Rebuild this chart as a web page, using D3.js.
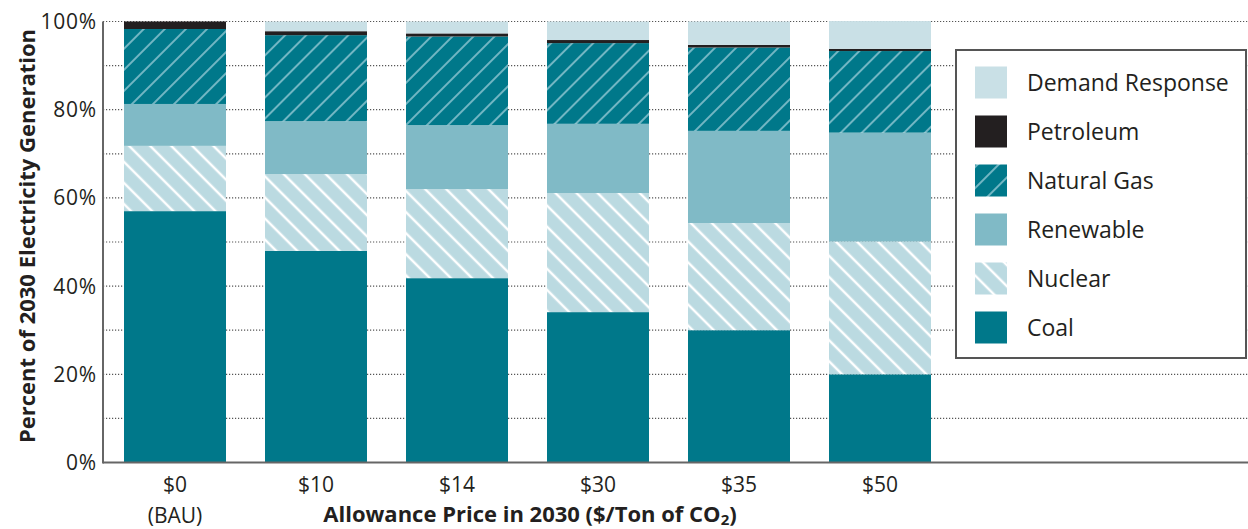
<!DOCTYPE html>
<html><head><meta charset="utf-8">
<script src="https://cdn.jsdelivr.net/npm/d3@7"></script>
<style>
html,body{margin:0;padding:0;background:#fff;}
svg{display:block;font-family:"Open Sans",sans-serif;}
</style></head>
<body>
<svg id="chart" width="1248" height="529"></svg>
<script>
const categories = ["$0", "$10", "$14", "$30", "$35", "$50"];
const subLabels = ["(BAU)", "", "", "", "", ""];
const seriesNames = ["Coal", "Nuclear", "Renewable", "Natural Gas", "Petroleum", "Demand Response"];
const coal = [57.0, 48.0, 41.8, 34.1, 30.0, 20.0];
const nuclear = [14.8, 17.4, 20.2, 27.0, 24.3, 30.1];
const renewable = [9.5, 12.0, 14.5, 15.7, 20.9, 24.7];
const naturalGas = [17.0, 19.5, 20.1, 18.3, 18.9, 18.5];
const petroleum = [1.7, 0.9, 0.7, 0.7, 0.6, 0.5];
const demandResponse = [0.0, 2.2, 2.7, 4.2, 5.3, 6.3];
const yTicks = [0, 20, 40, 60, 80, 100];
const gridTicks = [10, 20, 30, 40, 50, 60, 70, 80, 90, 100];
const legendOrder = ["Demand Response", "Petroleum", "Natural Gas", "Renewable", "Nuclear", "Coal"];

const seriesValues = [coal, nuclear, renewable, naturalGas, petroleum, demandResponse];
const table = categories.map((c, i) => {
  const row = {cat: c};
  seriesNames.forEach((s, j) => row[s] = seriesValues[j][i]);
  return row;
});

const svg = d3.select("#chart");
const defs = svg.append("defs");
function hatch(id, bg, lineColor, angle, lw) {
  const p = defs.append("pattern").attr("id", id).attr("patternUnits", "userSpaceOnUse")
    .attr("width", 14.9).attr("height", 14.9).attr("patternTransform", `rotate(${angle})`);
  p.append("rect").attr("width", 14.9).attr("height", 14.9).attr("fill", bg);
  p.append("line").attr("x1", 3).attr("x2", 3).attr("y1", -2).attr("y2", 17)
    .attr("stroke", lineColor).attr("stroke-width", lw);
}
hatch("gasPat", "#00788a", "#72b6c3", 45, 2);
hatch("nucPat", "#bbdae1", "#ffffff", -45, 2.5);

const fills = {
  "Coal": "#00788a",
  "Nuclear": "url(#nucPat)",
  "Renewable": "#80bac6",
  "Natural Gas": "url(#gasPat)",
  "Petroleum": "#231f20",
  "Demand Response": "#c9e0e6"
};

const x = d3.scaleBand().domain(categories).range([124, 931]).paddingInner(0.2766).paddingOuter(0);
const y = d3.scaleLinear().domain([0, 100]).range([462.5, 21.5]);
const axisX0 = 103, axisX1 = 1248;

// gridlines
svg.append("g").selectAll("line").data(gridTicks).join("line")
  .attr("x1", axisX0).attr("x2", axisX1)
  .attr("y1", d => y(d)).attr("y2", d => y(d))
  .attr("stroke", "#555").attr("stroke-width", 1.2).attr("stroke-dasharray", "1.2,1.8");

// stacked bars
const stack = d3.stack().keys(seriesNames)(table);
svg.append("g").selectAll("g").data(stack).join("g")
  .attr("fill", d => fills[d.key])
  .selectAll("rect").data(d => d).join("rect")
  .attr("x", d => x(d.data.cat))
  .attr("width", x.bandwidth())
  .attr("y", d => y(d[1]))
  .attr("height", d => Math.max(0, y(d[0]) - y(d[1])));

// axes lines
svg.append("line").attr("x1", axisX0).attr("x2", axisX0).attr("y1", y(100)).attr("y2", y(0) + 1)
  .attr("stroke", "#666").attr("stroke-width", 2);
svg.append("line").attr("x1", axisX0).attr("x2", axisX1).attr("y1", y(0)).attr("y2", y(0))
  .attr("stroke", "#666").attr("stroke-width", 2);

// y tick labels
svg.append("g").selectAll("text").data(yTicks).join("text")
  .attr("x", 97).attr("y", d => y(d)).attr("dy", "0.36em")
  .attr("text-anchor", "end").attr("font-size", 21).attr("letter-spacing", 0.8).attr("fill", "#231f20")
  .text(d => d + "%");

// x tick labels
svg.append("g").selectAll("text").data(categories).join("text")
  .attr("x", d => x(d) + x.bandwidth() / 2).attr("y", 491.5)
  .attr("text-anchor", "middle").attr("font-size", 21).attr("fill", "#231f20")
  .text(d => d);
svg.append("g").selectAll("text").data(categories).join("text")
  .attr("x", d => x(d) + x.bandwidth() / 2).attr("y", 523)
  .attr("text-anchor", "middle").attr("font-size", 21).attr("fill", "#231f20")
  .text((d, i) => subLabels[i]);

// x title
const xt = svg.append("text").attr("x", 530).attr("y", 522).attr("text-anchor", "middle")
  .attr("font-size", 22).attr("font-weight", "bold").attr("fill", "#231f20");
xt.append("tspan").text("Allowance Price in 2030 ($/Ton of CO");
xt.append("tspan").attr("font-size", 15).attr("dy", 3).text("2");
xt.append("tspan").attr("dy", -3).text(")");

// y title
svg.append("text").attr("transform", `translate(35,${236}) rotate(-90)`)
  .attr("text-anchor", "middle").attr("font-size", 22).attr("font-weight", "bold").attr("fill", "#231f20")
  .text("Percent of 2030 Electricity Generation");

// legend
const lg = svg.append("g");
lg.append("rect").attr("x", 956).attr("y", 50).attr("width", 290).attr("height", 308)
  .attr("fill", "#fff").attr("stroke", "#555").attr("stroke-width", 2);
const rowY = d3.scalePoint().domain(legendOrder).range([82.5, 327.5]);
const items = lg.selectAll("g.item").data(legendOrder).join("g").attr("class", "item");
items.append("rect").attr("x", 975).attr("y", d => rowY(d) - 16).attr("width", 32).attr("height", 32)
  .attr("fill", d => fills[d]);
items.append("text").attr("x", 1027).attr("y", d => rowY(d)).attr("dy", "0.36em")
  .attr("font-size", 23).attr("fill", "#231f20").text(d => d);
</script>
</body></html>
